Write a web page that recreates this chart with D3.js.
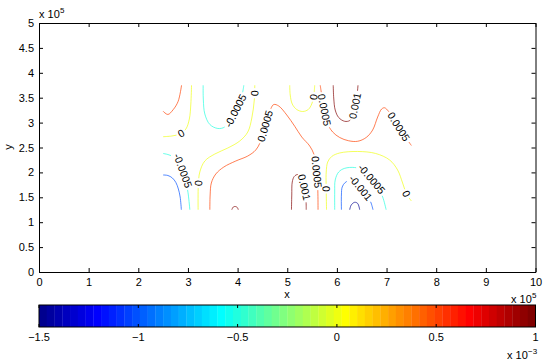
<!DOCTYPE html>
<html>
<head>
<meta charset="utf-8">
<script src="https://cdn.jsdelivr.net/npm/d3@7"></script>
<style>
body { margin: 0; background: #fff; }
svg { display: block; }
text { font-family: "Liberation Sans", Arial, Helvetica, sans-serif; }
</style>
</head>
<body>
<script>
// axis ticks (x, y in units of 1e5, colour in units of 1e-3)
const xTicks = [0, 1, 2, 3, 4, 5, 6, 7, 8, 9, 10];
const yTicks = [0, 0.5, 1, 1.5, 2, 2.5, 3, 3.5, 4, 4.5, 5];
const cbTicks = [-1.5, -1, -0.5, 0, 0.5, 1];
const cLim = [-1.5e-3, 1e-3];

// contour lines, points are [x, y] in units of 1e5
const lineA = [[2.871,3.75],[2.803,3.428],[2.702,3.259],[2.596,3.163],[2.5,3.227]];
const lineB = [[3.072,3.75],[3.058,3.373],[3.028,3.072],[2.958,2.871],[2.837,2.771],[2.676,2.731],[2.5,2.717]];
const lineC = [[3.306,3.75],[3.310,3.454],[3.340,3.173],[3.441,2.962],[3.602,2.882],[3.742,2.912],[3.863,3.072],[3.984,3.293],[4.085,3.534],[4.125,3.75]];
const lineD = [[4.346,3.75],[4.336,3.454],[4.286,3.092],[4.205,2.811],[4.044,2.631],[3.803,2.490],[3.541,2.369],[3.340,2.229],[3.239,2.008],[3.209,1.747],[3.205,1.25]];
const lineE = [[3.441,1.25],[3.447,1.546],[3.471,1.787],[3.561,1.968],[3.722,2.108],[3.964,2.229],[4.205,2.329],[4.366,2.450],[4.467,2.631],[4.567,2.972],[4.658,3.253],[4.728,3.363],[4.829,3.333],[4.990,3.153],[5.151,2.926],[5.292,2.711],[5.453,2.530],[5.543,2.349],[5.584,2.088],[5.614,1.687],[5.620,1.25]];
const lineF = [[3.883,1.25],[3.913,1.305],[3.954,1.315],[3.994,1.295],[4.014,1.25]];
const lineG = [[5.085,1.25],[5.091,1.546],[5.101,1.807],[5.141,1.918],[5.211,1.958],[5.282,1.908],[5.332,1.747],[5.372,1.546],[5.382,1.25]];
const lineH = [[5.791,1.25],[5.785,1.647],[5.785,2.008],[5.815,2.209],[5.895,2.319],[6.056,2.390],[6.419,2.420],[6.781,2.380],[7.062,2.249],[7.223,2.048],[7.324,1.787],[7.404,1.566],[7.5,1.426]];
const lineI = [[5.956,1.25],[5.956,1.606],[5.966,1.847],[6.036,2.008],[6.157,2.082],[6.358,2.098],[6.519,2.048],[6.680,1.888],[6.821,1.707],[6.922,1.506],[6.992,1.25]];
const lineJ = [[6.091,1.25],[6.091,1.546],[6.107,1.707],[6.167,1.797],[6.258,1.837],[6.358,1.807],[6.479,1.687],[6.600,1.526],[6.680,1.406],[6.727,1.25]];
const lineK = [[6.258,1.25],[6.288,1.345],[6.358,1.400],[6.419,1.376],[6.459,1.25]];
const lineL = [[5.050,3.75],[5.060,3.554],[5.101,3.373],[5.191,3.263],[5.312,3.223],[5.423,3.263],[5.493,3.373],[5.533,3.534],[5.553,3.75]];
const lineM = [[5.664,3.75],[5.704,3.494],[5.755,3.213],[5.815,2.972],[5.915,2.811],[6.056,2.701],[6.237,2.635],[6.419,2.625],[6.590,2.701],[6.720,2.851],[6.821,3.112],[6.901,3.273],[6.962,3.297],[7.042,3.223],[7.183,3.012],[7.324,2.791],[7.5,2.540]];
const lineN = [[5.926,3.75],[5.936,3.494],[5.966,3.253],[6.036,3.102],[6.157,3.026],[6.258,3.042],[6.318,3.153],[6.368,3.353],[6.408,3.574],[6.425,3.75]];
const lineO = [[2.5,2.380],[2.596,2.359],[2.696,2.319],[2.797,2.229],[2.877,2.088],[2.938,1.908],[2.978,1.727],[3.008,1.546],[3.038,1.25]];
const lineP = [[2.5,1.948],[2.596,1.938],[2.686,1.888],[2.757,1.797],[2.807,1.667],[2.843,1.506],[2.867,1.25]];

// where the inline labels sit (x, y in units of 1e5)
const contourLines = [
  { level: 0.0005,  pts: lineA, labels: [] },
  { level: 0,       pts: lineB, labels: [[2.857, 2.791]] },
  { level: -0.0005, pts: lineC, labels: [[3.96, 3.24]] },
  { level: 0,       pts: lineD, labels: [[4.346, 3.594], [3.219, 1.787]] },
  { level: 0.0005,  pts: lineE, labels: [[4.567, 2.932], [5.594, 2.008]] },
  { level: 0.001,   pts: lineF, labels: [] },
  { level: 0.001,   pts: lineG, labels: [[5.342, 1.707]] },
  { level: 0,       pts: lineH, labels: [[5.785, 1.667], [7.384, 1.566]] },
  { level: -0.0005, pts: lineI, labels: [[6.66, 1.827]] },
  { level: -0.001,  pts: lineJ, labels: [[6.459, 1.667]] },
  { level: -0.0015, pts: lineK, labels: [] },
  { level: 0,       pts: lineL, labels: [[5.533, 3.514]] },
  { level: 0.0005,  pts: lineM, labels: [[5.755, 3.253], [7.203, 2.892]] },
  { level: 0.001,   pts: lineN, labels: [[6.368, 3.333]] },
  { level: -0.0005, pts: lineO, labels: [[2.897, 2.028]] },
  { level: -0.001,  pts: lineP, labels: [] }
];

// matlab jet(64)
function jetMap(n) {
  const m = Math.ceil(n / 4);
  const u = [...d3.range(1, m + 1).map(k => k / m), ...Array(m - 1).fill(1), ...d3.range(m, 0, -1).map(k => k / m)];
  const g0 = Math.ceil(m / 2) - (n % 4 === 1 ? 1 : 0);
  const pick = k => (k >= 1 && k <= u.length) ? u[k - 1] : 0;
  return d3.range(1, n + 1).map(i => d3.rgb(
    255 * pick(i - g0 - m), 255 * pick(i - g0), 255 * pick(i - g0 + m)
  ).formatHex());
}
const cmap = jetMap(64);
function levelColor(v) {
  const idx = Math.min(cmap.length, Math.floor((v - cLim[0]) / (cLim[1] - cLim[0]) * cmap.length) + 1);
  return cmap[Math.max(1, idx) - 1];
}

const W = 546, H = 360;
const svg = d3.select("body").append("svg").attr("width", W).attr("height", H);

const x = d3.scaleLinear().domain([0, 10]).range([39, 535.5]);
const y = d3.scaleLinear().domain([0, 5]).range([272, 23]);
const cx = d3.scaleLinear().domain(cLim).range([39, 535.5]);

// axes
function styleAxis(g) {
  g.selectAll("path, line").attr("stroke", "#000").attr("stroke-width", 1);
  g.selectAll("text").attr("font-size", 11).attr("fill", "#000").attr("font-family", null);
}
svg.append("g").attr("transform", "translate(0,272)")
  .call(d3.axisBottom(x).tickValues(xTicks).tickSizeInner(-4).tickSizeOuter(0).tickPadding(6).tickFormat(d => String(d)))
  .call(styleAxis);
svg.append("g").attr("transform", "translate(0,23)")
  .call(d3.axisTop(x).tickValues(xTicks).tickSizeInner(-4).tickSizeOuter(0).tickFormat(""))
  .call(styleAxis);
svg.append("g").attr("transform", "translate(39,0)")
  .call(d3.axisLeft(y).tickValues(yTicks).tickSizeInner(-4).tickSizeOuter(0).tickPadding(5).tickFormat(d => String(d)))
  .call(styleAxis);
svg.append("g").attr("transform", "translate(535.5,0)")
  .call(d3.axisRight(y).tickValues(yTicks).tickSizeInner(-4).tickSizeOuter(0).tickFormat(""))
  .call(styleAxis);

svg.append("text").attr("x", 39).attr("y", 18).attr("font-size", 11).text("x 10");
svg.append("text").attr("x", 60).attr("y", 13).attr("font-size", 8).text("5");
svg.append("text").attr("x", 511).attr("y", 303).attr("font-size", 11).text("x 10");
svg.append("text").attr("x", 532).attr("y", 298).attr("font-size", 8).text("5");
svg.append("text").attr("x", 287).attr("y", 298).attr("font-size", 11).attr("text-anchor", "middle").text("x");
svg.append("text").attr("transform", "translate(12,147) rotate(-90)").attr("font-size", 11).attr("text-anchor", "middle").text("y");

// contour lines with inline labels
const line = d3.line().x(d => x(d[0])).y(d => y(d[1])).curve(d3.curveCatmullRom.alpha(0.5));
const pathLayer = svg.append("g");
const labelLayer = svg.append("g");

contourLines.forEach(c => {
  const path = pathLayer.append("path").datum(c.pts).attr("d", line)
    .attr("fill", "none").attr("stroke", levelColor(c.level))
    .attr("stroke-width", 0.8).attr("stroke-opacity", 0.85);
  const node = path.node();
  const total = node.getTotalLength();
  const gaps = [];
  c.labels.forEach(([lx, ly]) => {
    const px = x(lx), py = y(ly);
    let best = 0, bestD = Infinity;
    for (let s = 0; s <= total; s += 0.5) {
      const p = node.getPointAtLength(s);
      const d = (p.x - px) ** 2 + (p.y - py) ** 2;
      if (d < bestD) { bestD = d; best = s; }
    }
    const p = node.getPointAtLength(best);
    const a = node.getPointAtLength(Math.max(0, best - 4));
    const b = node.getPointAtLength(Math.min(total, best + 4));
    let ang = Math.atan2(b.y - a.y, b.x - a.x) * 180 / Math.PI;
    if (ang > 90) ang -= 180;
    if (ang <= -90) ang += 180;
    const t = labelLayer.append("text")
      .attr("transform", `translate(${p.x},${p.y}) rotate(${ang})`)
      .attr("text-anchor", "middle").attr("dy", "0.35em")
      .attr("font-size", 10.5).text(String(c.level));
    const w = t.node().getComputedTextLength();
    gaps.push([best - w / 2 - 2, best + w / 2 + 2]);
  });
  if (gaps.length) {
    gaps.sort((a, b) => a[0] - b[0]);
    const arr = [];
    let pos = 0;
    gaps.forEach(([s, e]) => {
      arr.push(Math.max(0, s - pos), e - Math.max(s, pos));
      pos = e;
    });
    arr.push(total, 0);
    path.attr("stroke-dasharray", arr.join(" "));
  }
});

// colorbar
const cbTop = 305, cbH = 22;
const step = (cLim[1] - cLim[0]) / cmap.length;
const cb = svg.append("g");
cb.selectAll("rect.band").data(cmap).enter().append("rect")
  .attr("class", "band")
  .attr("x", (d, i) => cx(cLim[0] + i * step))
  .attr("width", (d, i) => cx(cLim[0] + (i + 1) * step) - cx(cLim[0] + i * step) + 0.3)
  .attr("y", cbTop).attr("height", cbH)
  .attr("fill", d => d);
cb.append("rect").attr("x", 39).attr("y", cbTop).attr("width", 496.5).attr("height", cbH)
  .attr("fill", "none").attr("stroke", "#000");
cbTicks.forEach(t => {
  const tx = cx(t * 1e-3);
  cb.append("line").attr("x1", tx).attr("x2", tx).attr("y1", cbTop).attr("y2", cbTop + 3).attr("stroke", "#000");
  cb.append("line").attr("x1", tx).attr("x2", tx).attr("y1", cbTop + cbH).attr("y2", cbTop + cbH - 3).attr("stroke", "#000");
  cb.append("text").attr("x", tx).attr("y", 341).attr("text-anchor", "middle").attr("font-size", 11)
    .text((t < 0 ? "\u2212" : "") + Math.abs(t));
});
svg.append("text").attr("x", 507).attr("y", 359).attr("font-size", 11).text("x 10");
svg.append("text").attr("x", 528).attr("y", 354).attr("font-size", 8).text("\u22123");
</script>
</body>
</html>
